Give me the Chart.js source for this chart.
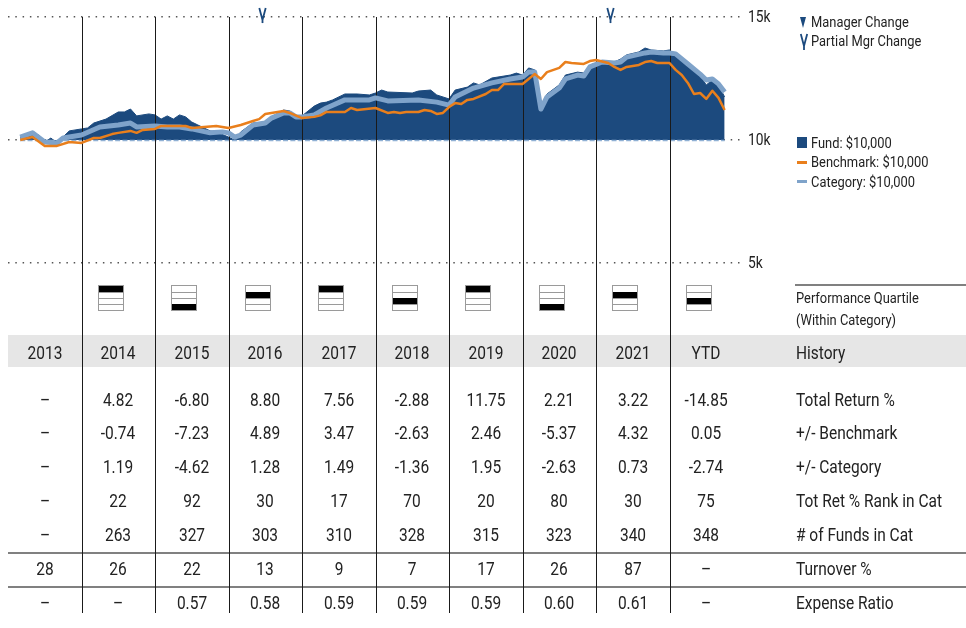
<!DOCTYPE html>
<html>
<head>
<meta charset="utf-8">
<script src="https://cdn.jsdelivr.net/npm/chart.js"></script>
<style>
  body { margin: 0; background: #fff; }
  #wrap { position: relative; width: 966px; height: 628px; overflow: hidden;
    font-family: "Liberation Sans Narrow", "Arial Narrow", Roboto, sans-serif; color: #222; }
  #chart { position: absolute; left: 0; top: 0; z-index: 1; }
  .t { position: absolute; white-space: nowrap; line-height: 1; z-index: 2; }
  .c { transform: translate(-50%, -50%) scaleX(0.86); font-size: 18px; }
  .l { transform: translateY(-50%) scaleX(0.86); transform-origin: left center; font-size: 18px; }
  .s { transform: translateY(-50%) scaleX(0.86); transform-origin: left center; font-size: 15px; }
  .rule { position: absolute; background: #808080; z-index: 0; }
  .band { position: absolute; left: 8px; top: 335px; width: 958px; height: 32px; background: #e6e6e6; z-index: 0; }
  .qbox { position: absolute; width: 24px; height: 24px; border: 1px solid #9a9a9a; z-index: 2; background: #fff; }
  .qbox div { height: 5px; border-top: 1px solid #9a9a9a; }
  .qbox div:first-child { height: 6px; border-top: none; }
  .qbox div.on { background: #000; border-top-color: #000; }
</style>
</head>
<body>
<div id="wrap">
  <div class="band"></div>
  <div class="rule" style="left:8px; top:552px; width:958px; height:2px;"></div>
  <div class="rule" style="left:8px; top:586px; width:958px; height:2px;"></div>
  <div class="rule" style="left:795px; top:284px; width:171px; height:2px;"></div>
  <canvas id="chart" width="966" height="628"></canvas>
</div>
<script>
// months counted from Jan 2013 = 0
var fundMonths = [2,4,5,6,7,8,10,12,13,14,16,18,19,20,21,23,24,25,26,27,28,29,30,31,33,34,36,37,38,40,42,43,45,46,47,48,50,51,52,53,55,57,59,60,61,62,66,67,69,70,72,73,75,76,77,79,80,82,83,84,85,86,87,88,90,91,93,94,95,97,99,100,101,103,104,105,107,108,109,111,113,114,115,116,117];
var fundValues = [10120,10330,10200,9920,10080,9880,10370,10450,10490,10690,10850,11140,11140,11260,10980,11060,11020,10850,10980,10850,11020,10940,10730,10610,10370,10330,10120,10000,10330,10690,10730,10940,11220,11180,10940,10980,11380,11500,11540,11630,11870,11870,11830,11910,12030,11950,11910,11990,12030,11830,11670,12030,12150,12320,12240,12520,12560,12640,12720,12640,12930,12850,11140,11870,12240,12640,12760,12720,13050,13210,13170,13290,13460,13580,13740,13660,13620,13660,13460,13130,12600,12240,12440,12240,11750];

var catMonths = [2,4,6,8,9,12,15,18,20,21,24,26,28,30,33,35,36,37,38,40,42,43,45,46,47,48,50,52,55,59,60,62,67,70,72,73,76,79,82,84,85,86,87,88,90,91,93,94,95,97,99,100,101,104,105,107,108,109,111,113,114,115,116,117];
var catValues = [10120,10290,9920,9880,10080,10200,10530,10610,10690,10530,10570,10530,10530,10450,10290,10330,10290,10120,10200,10610,10690,10890,11100,11100,10940,10940,11020,11300,11630,11630,11710,11590,11630,11540,11420,11750,12110,12320,12480,12560,12760,12760,11260,11750,12110,12480,12640,12600,12970,13170,13130,13170,13370,13540,13580,13540,13540,13500,13090,12680,12440,12480,12280,11950];

var benchMonths = [2,4,6,8,10,12,14,15,17,18,20,21,22,24,25,27,29,30,32,34,36,38,40,41,42,44,45,46,48,50,51,52,53,55,56,57,60,62,63,64,65,67,68,69,70,71,72,73,74,75,76,78,79,80,81,82,84,85,86,87,88,90,91,92,94,95,96,98,99,100,101,103,104,105,106,108,109,110,111,112,113,114,115,116,117];
var benchValues = [10000,10120,9760,9760,9920,9880,10080,10080,10240,10290,10370,10290,10410,10450,10570,10570,10570,10490,10530,10570,10490,10610,10770,10850,11060,11140,11180,11100,10890,10940,11000,11140,11140,11140,11300,11220,11300,11100,11140,11100,11140,11140,11220,11180,11060,11100,11340,11500,11460,11630,11670,11870,12030,12030,12280,12280,12280,12480,12680,12480,12760,12930,13170,13130,13090,13210,13250,13130,12970,12850,12970,13050,13170,13210,13130,13130,12850,12640,12320,11870,11910,11670,12000,11710,11220];

var mgrChangeMonths = [41.4, 98.3];
var yTicks = [15000, 10000, 5000];
var yTickLabels = ['15k', '10k', '5k'];

var years = ['2013','2014','2015','2016','2017','2018','2019','2020','2021','YTD'];
var quartiles = [null, 1, 4, 2, 1, 3, 1, 4, 2, 3];
var totalReturn = ['–','4.82','-6.80','8.80','7.56','-2.88','11.75','2.21','3.22','-14.85'];
var vsBenchmark = ['–','-0.74','-7.23','4.89','3.47','-2.63','2.46','-5.37','4.32','0.05'];
var vsCategory = ['–','1.19','-4.62','1.28','1.49','-1.36','1.95','-2.63','0.73','-2.74'];
var rankInCat = ['–','22','92','30','17','70','20','80','30','75'];
var fundsInCat = ['–','263','327','303','310','328','315','323','340','348'];
var turnover = ['28','26','22','13','9','7','17','26','87','–'];
var expenseRatio = ['–','–','0.57','0.58','0.59','0.59','0.59','0.60','0.61','–'];

var rowLabels = ['Total Return %','+/- Benchmark','+/- Category','Tot Ret % Rank in Cat','# of Funds in Cat','Turnover %','Expense Ratio'];
var rowValues = [totalReturn, vsBenchmark, vsCategory, rankInCat, fundsInCat, turnover, expenseRatio];
var rowY = [400, 433, 467, 501, 535, 569, 603];

var navy = '#1c4a7e';
var lightBlue = '#7fa3ca';
var orange = '#e97f1c';

function pts(xs, ys) {
  var out = [];
  for (let i = 0; i < xs.length; i++) out.push({x: xs[i], y: ys[i]});
  return out;
}

var overlay = {
  id: 'overlay',
  afterDatasetDraw(chart, args) {
    if (args.index !== 0) return;
    var ctx = chart.ctx, xs = chart.scales.x, ys = chart.scales.y;
    ctx.save();
    // light dashes along the 10k base under the fund fill
    var by = Math.round(ys.getPixelForValue(10000)) + 0.5;
    ctx.strokeStyle = '#8fb0d4';
    ctx.lineWidth = 1.5;
    ctx.setLineDash([5, 2.3]);
    ctx.beginPath();
    ctx.moveTo(xs.getPixelForValue(fundMonths[0]), by);
    ctx.lineTo(xs.getPixelForValue(fundMonths[fundMonths.length - 1]), by);
    ctx.stroke();
    ctx.setLineDash([]);
    // year dividers
    ctx.strokeStyle = '#1a1a1a';
    ctx.lineWidth = 1;
    for (let k = 1; k < years.length; k++) {
      var px = Math.round(xs.getPixelForValue(k * 12)) + 0.5;
      ctx.beginPath();
      ctx.moveTo(px, chart.chartArea.top);
      ctx.lineTo(px, 613);
      ctx.stroke();
    }
    ctx.restore();
  },
  afterDraw(chart) {
    var ctx = chart.ctx, xs = chart.scales.x;
    ctx.save();
    ctx.strokeStyle = navy;
    ctx.lineWidth = 1.8;
    mgrChangeMonths.forEach(function (m) {
      var px = Math.round(xs.getPixelForValue(m)) + 0.5;
      ctx.beginPath();
      ctx.moveTo(px - 3.2, 8);
      ctx.lineTo(px, 20);
      ctx.lineTo(px + 3.2, 8);
      ctx.moveTo(px, 19);
      ctx.lineTo(px, 23);
      ctx.stroke();
    });
    ctx.restore();
  }
};

var chart = new Chart(document.getElementById('chart'), {
  type: 'line',
  data: {
    datasets: [{
      label: 'Fund',
      data: pts(fundMonths, fundValues),
      borderColor: navy,
      backgroundColor: navy,
      borderWidth: 1,
      fill: {value: 10000},
      order: 2
    }, {
      label: 'Category',
      data: pts(catMonths, catValues),
      borderColor: lightBlue,
      borderWidth: 5,
      fill: false,
      order: 1
    }, {
      label: 'Benchmark',
      data: pts(benchMonths, benchValues),
      borderColor: orange,
      borderWidth: 2.5,
      fill: false,
      order: 0
    }]
  },
  options: {
    responsive: false,
    animation: false,
    events: [],
    layout: { padding: { left: 8, right: 223, top: 17, bottom: 365 } },
    elements: { point: { radius: 0 }, line: { tension: 0, borderJoinStyle: 'round' } },
    scales: {
      x: { type: 'linear', min: 0, max: 120, display: false },
      y: {
        min: 5000, max: 15000,
        afterBuildTicks: function (s) { s.ticks = yTicks.map(function (v) { return {value: v}; }); },
        ticks: { display: false },
        grid: { color: '#555', lineWidth: 1.5, drawTicks: false },
        border: { display: false, dash: [1.5, 5.8] }
      }
    },
    plugins: { legend: { display: false }, tooltip: { enabled: false } }
  },
  plugins: [overlay]
});

// text overlays
var wrap = document.getElementById('wrap');
function addText(txt, cls, x, y, extra) {
  var d = document.createElement('div');
  d.className = 't ' + cls;
  d.textContent = txt;
  d.style.left = x + 'px';
  d.style.top = y + 'px';
  if (extra) d.style.cssText += extra;
  wrap.appendChild(d);
  return d;
}

var xs = chart.scales.x, ys = chart.scales.y;
yTicks.forEach(function (v, i) {
  addText(yTickLabels[i], 's', 748, ys.getPixelForValue(v), 'font-size:16px;');
});

// legend
var tri = document.createElement('div');
tri.style.cssText = 'position:absolute;left:800px;top:17px;width:0;height:0;border-left:3.5px solid transparent;border-right:3.5px solid transparent;border-top:11px solid ' + navy + ';z-index:2;';
wrap.appendChild(tri);
addText('Manager Change', 's', 811, 22);
var vmark = document.createElementNS('http://www.w3.org/2000/svg', 'svg');
vmark.setAttribute('width', '10'); vmark.setAttribute('height', '18');
vmark.style.cssText = 'position:absolute;left:799px;top:33px;z-index:2;';
vmark.innerHTML = '<path d="M1.8 1 L5 13 L8.2 1 M5 12 L5 17" stroke="' + navy + '" stroke-width="1.8" fill="none"/>';
wrap.appendChild(vmark);
addText('Partial Mgr Change', 's', 811, 41);

var sw = document.createElement('div');
sw.style.cssText = 'position:absolute;left:797px;top:137px;width:10px;height:11px;background:' + navy + ';z-index:2;';
wrap.appendChild(sw);
addText('Fund: $10,000', 's', 811, 143);
var bl = document.createElement('div');
bl.style.cssText = 'position:absolute;left:797px;top:161px;width:10px;height:2.5px;background:' + orange + ';z-index:2;';
wrap.appendChild(bl);
addText('Benchmark: $10,000', 's', 811, 162);
var cl = document.createElement('div');
cl.style.cssText = 'position:absolute;left:797px;top:180px;width:10px;height:3px;background:' + lightBlue + ';z-index:2;';
wrap.appendChild(cl);
addText('Category: $10,000', 's', 811, 182);

// quartile boxes, history row, data rows
addText('Performance Quartile', 'l', 796, 298, 'font-size:15px;');
addText('(Within Category)', 'l', 796, 320, 'font-size:15px;');
addText('History', 'l', 796, 353);
for (let k = 0; k < years.length; k++) {
  var cx = xs.getPixelForValue(k * 12 + 6);
  addText(years[k], 'c', cx, 353);
  if (quartiles[k]) {
    var box = document.createElement('div');
    box.className = 'qbox';
    box.style.left = Math.round(cx - 20.5) + 'px';
    box.style.top = '285px';
    for (let q = 1; q <= 4; q++) {
      var r = document.createElement('div');
      if (q === quartiles[k]) r.className = 'on';
      box.appendChild(r);
    }
    wrap.appendChild(box);
  }
  for (let r = 0; r < rowValues.length; r++) {
    addText(rowValues[r][k], 'c', cx, rowY[r]);
  }
}
for (let r = 0; r < rowLabels.length; r++) {
  addText(rowLabels[r], 'l', 796, rowY[r]);
}
</script>
</body>
</html>
